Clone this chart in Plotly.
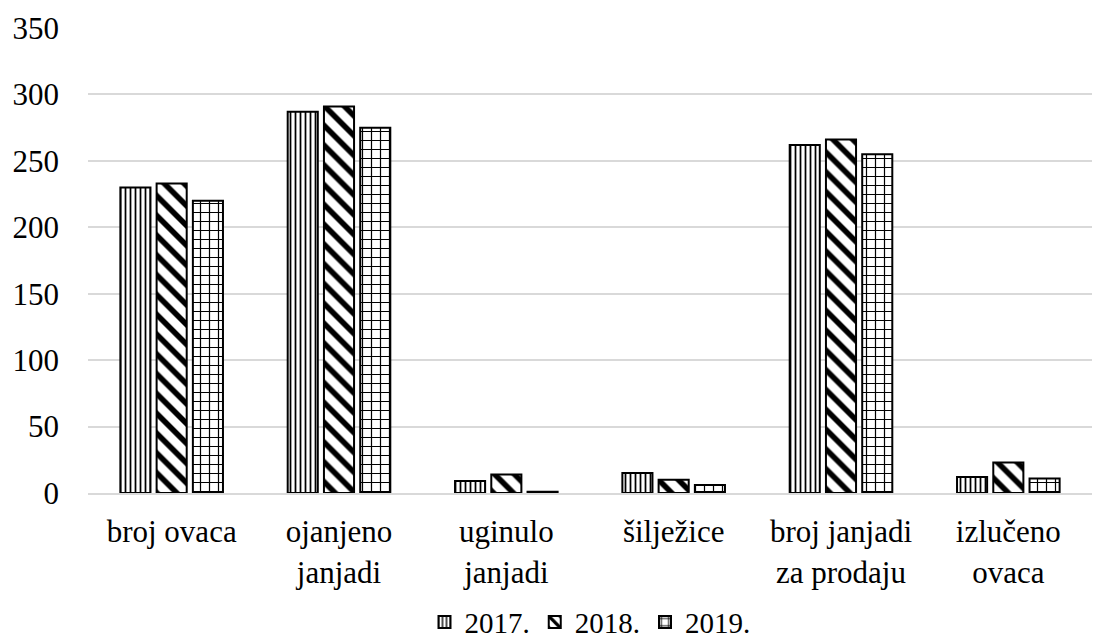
import plotly.graph_objects as go

categories = ["broj ovaca", "ojanjeno<br>janjadi", "uginulo<br>janjadi", "šilježice",
              "broj janjadi<br>za prodaju", "izlučeno<br>ovaca"]
series_names = ["2017.", "2018.", "2019."]
v2017 = [230, 287, 9, 15, 262, 12]
v2018 = [233, 291, 14, 10, 266, 23]
v2019 = [220, 275, 1, 6, 255, 11]
values = [v2017, v2018, v2019]

patterns = [dict(shape="|", size=5, solidity=0.35),
            dict(shape="\\", size=14, solidity=0.4),
            dict(shape="+", size=9, solidity=0.25)]

FONT = "Liberation Serif"

fig = go.Figure()
for name, vals, pat in zip(series_names, values, patterns):
    fig.add_trace(go.Bar(
        x=categories, y=vals, name=name,
        marker=dict(color="white",
                    line=dict(color="black", width=2),
                    pattern=dict(fgcolor="black", bgcolor="white", fillmode="replace", **pat)),
    ))

fig.update_layout(
    width=1099, height=630,
    paper_bgcolor="white", plot_bgcolor="white",
    font=dict(family=FONT, size=31, color="black"),
    margin=dict(l=80, r=15, t=20, b=145, autoexpand=False),
    barmode="group", bargap=0.35, bargroupgap=0.17,
    showlegend=True,
    legend=dict(orientation="h", x=0.5, xanchor="center", y=-0.278, yanchor="middle",
                font=dict(family=FONT, size=29), traceorder="normal",
                itemwidth=30, tracegroupgap=0),
    yaxis=dict(range=[0, 350], dtick=50, showgrid=True, gridcolor="#d9d9d9", gridwidth=2,
               zeroline=False, showline=False, ticks="", ticklabelstandoff=28,
               tickfont=dict(family=FONT, size=31)),
    xaxis=dict(showline=True, linecolor="#d9d9d9", linewidth=2, ticks="",
               ticklabelstandoff=10,
               tickfont=dict(family=FONT, size=31)),
)

fig.write_html("out.html")
